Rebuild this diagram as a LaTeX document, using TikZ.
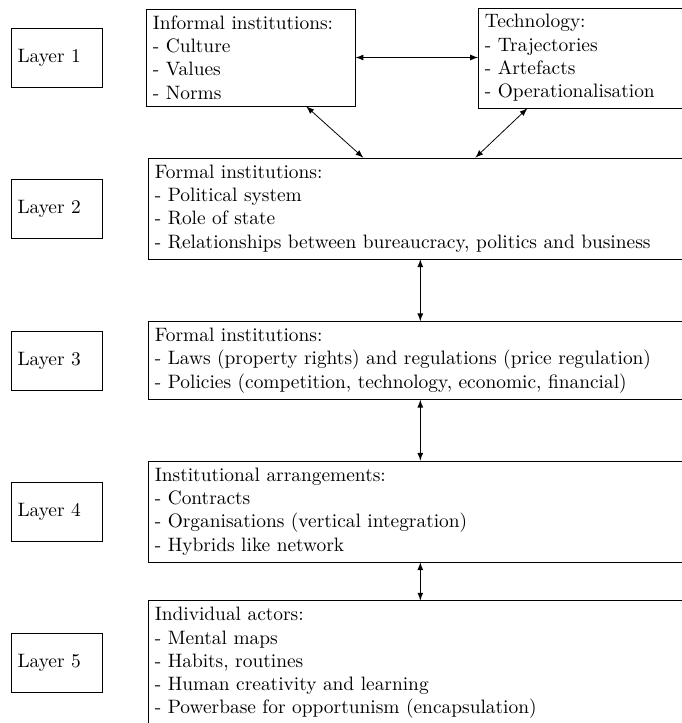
\documentclass[tikz,border=0pt]{standalone}
\usetikzlibrary{arrows}
\begin{document}
\begin{tikzpicture}[x=0.5155pt,y=-0.5155pt,>=latex,
  layerbox/.style={draw,align=left,text width=40.2pt,inner sep=3.33pt,minimum height=30.4pt},
  infobox/.style={draw,align=left,inner sep=3.33pt,anchor=west},
  link/.style={<->}]
\useasboundingbox (0,0) rectangle (681,723);
% layer labels
\node[layerbox] (l1) at (56.5,57.5) {Layer 1};
\node[layerbox] (l2) at (56.5,208.5) {Layer 2};
\node[layerbox] (l3) at (56.5,360.5) {Layer 3};
\node[layerbox] (l4) at (56.5,511.5) {Layer 4};
\node[layerbox] (l5) at (56.5,662.5) {Layer 5};
% content boxes
\node[infobox,text width=101pt,minimum height=50pt] (inf) at (146,57.5)
  {Informal institutions:\\- Culture\\- Values\\- Norms};
\node[infobox,text width=103.6pt,minimum height=51pt] (tech) at (478,58)
  {Technology:\\- Trajectories\\- Artefacts\\- Operationalisation};
\node[infobox,text width=273.7pt,minimum height=52pt] (f1) at (148,208.5)
  {Formal institutions:\\- Political system\\- Role of state\\- Relationships between bureaucracy, politics and business};
\node[infobox,text width=273.7pt,minimum height=39.7pt] (f2) at (148,360.5)
  {Formal institutions:\\- Laws (property rights) and regulations (price regulation)\\- Policies (competition, technology, economic, financial)};
\node[infobox,text width=273.7pt,minimum height=52pt] (ia) at (148,511.5)
  {Institutional arrangements:\\- Contracts\\- Organisations (vertical integration)\\- Hybrids like network};
\node[infobox,draw=none,text width=273.7pt,anchor=north west] (ind) at (148,600.5)
  {Individual actors:\\- Mental maps\\- Habits, routines\\- Human creativity and learning\\- Powerbase for opportunism (encapsulation)};
\draw (ind.north west) rectangle ([yshift=-10pt]ind.south east);
% connectors
\draw[link] (inf.east) -- (inf.east -| tech.west);
\draw[link] ([xshift=28.6pt]inf.south) -- ([xshift=-29.4pt]f1.north);
\draw[link] ([xshift=-29.9pt]tech.south) -- ([xshift=28.4pt]f1.north);
\draw[link] (f1.south) -- (f2.north);
\draw[link] (f2.south) -- (ia.north);
\draw[link] (ia.south) -- (ind.north);
\end{tikzpicture}
\end{document}
